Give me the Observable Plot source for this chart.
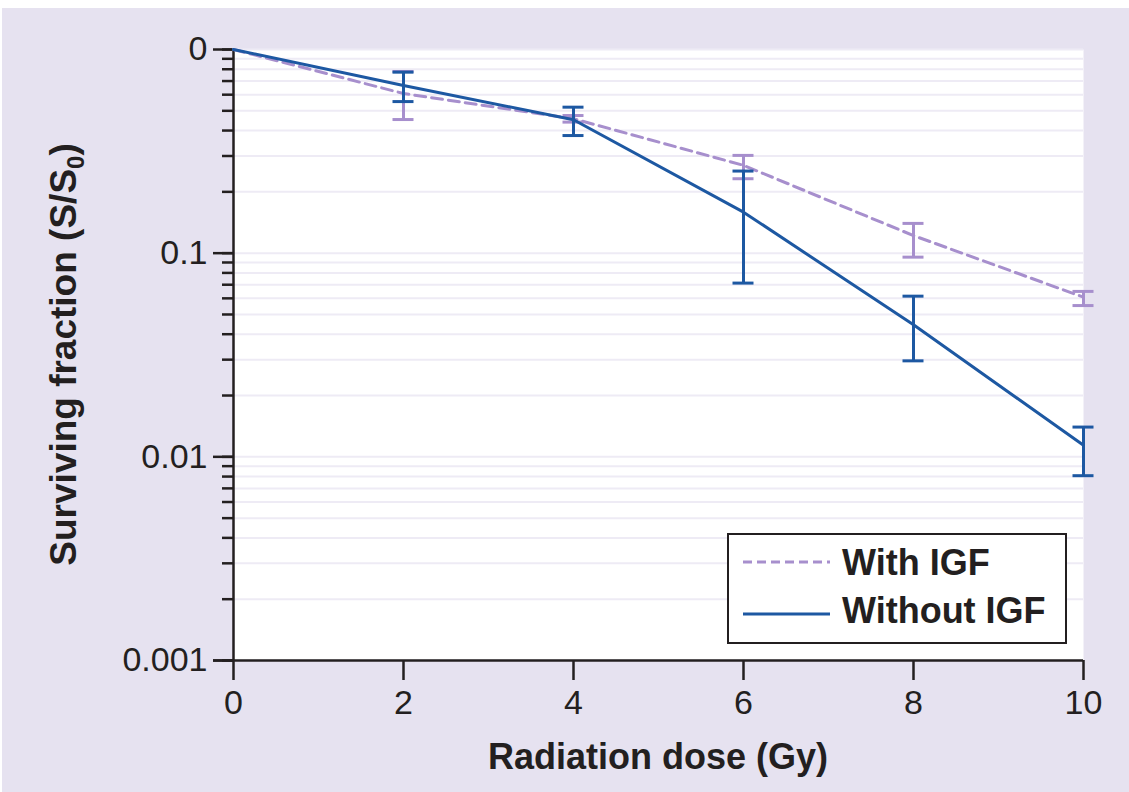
<!DOCTYPE html>
<html>
<head>
<meta charset="utf-8">
<script src="https://cdn.jsdelivr.net/npm/d3@7"></script>
<script src="https://cdn.jsdelivr.net/npm/@observablehq/plot@0.6"></script>
<style>
  html, body { margin: 0; padding: 0; background: #ffffff; }
  #chart { position: absolute; left: 2px; top: 8px; }
</style>
</head>
<body>
<div id="chart"></div>
<script>
// ---- data ----
const doses = [0, 2, 4, 6, 8, 10];
const withIGF = [1, 0.608, 0.457, 0.27, 0.122, 0.0608];
const withIGFLow = [null, 0.453, 0.44, 0.232, 0.0956, 0.0553];
const withIGFHigh = [null, 0.78, 0.474, 0.302, 0.140, 0.0649];
const withoutIGF = [1, 0.666, 0.452, 0.159, 0.0445, 0.0114];
const withoutIGFLow = [null, 0.555, 0.378, 0.0713, 0.0296, 0.00808];
const withoutIGFHigh = [null, 0.774, 0.521, 0.253, 0.0615, 0.014];
const seriesNames = ["With IGF", "Without IGF"];
const xTicks = [0, 2, 4, 6, 8, 10];
const yTickValues = [1, 0.1, 0.01, 0.001];
const yTickLabels = ["0", "0.1", "0.01", "0.001"];
const xTitle = "Radiation dose (Gy)";

// ---- styles ----
const lavender = "#e6e2f0";
const gridColor = "#eeebf5";
const ink = "#231f20";
const purple = "#a78fcd";
const blue = "#1d58a2";
const font = "'Liberation Sans', Arial, Helvetica, sans-serif";

function build(values, low, high) {
  return doses.map((d, i) => ({dose: d, sf: values[i], low: low[i], high: high[i]}));
}
const dataWith = build(withIGF, withIGFLow, withIGFHigh);
const dataWithout = build(withoutIGF, withoutIGFLow, withoutIGFHigh);
const errWith = dataWith.filter(d => d.low != null);
const errWithout = dataWithout.filter(d => d.low != null);

const yDomain = [0.001, 1];
const minorTicks = d3.scaleLog().domain(yDomain).ticks();
const labelOf = v => yTickLabels[yTickValues.indexOf(v)];

function errorMarks(err, color) {
  return [
    Plot.ruleX(err, {x: "dose", y1: "low", y2: "high", stroke: color, strokeWidth: 3}),
    Plot.ruleY(err, {y: "low", x1: "dose", x2: "dose", stroke: color, strokeWidth: 3, insetLeft: -10.5, insetRight: -10.5}),
    Plot.ruleY(err, {y: "high", x1: "dose", x2: "dose", stroke: color, strokeWidth: 3, insetLeft: -10.5, insetRight: -10.5})
  ];
}

const plot = Plot.plot({
  width: 1127,
  height: 784,
  marginLeft: 231,
  marginRight: 46,
  marginTop: 41,
  marginBottom: 132,
  style: {background: lavender, fontFamily: font, color: ink, overflow: "visible"},
  x: {domain: [0, 10]},
  y: {type: "log", domain: yDomain},
  marks: [
    Plot.frame({fill: "white", stroke: null}),
    Plot.gridY(minorTicks, {stroke: gridColor, strokeOpacity: 1, strokeWidth: 2}),
    Plot.axisY(minorTicks, {tickSize: 11, tickFormat: () => "", stroke: ink, strokeWidth: 2.5, label: null}),
    Plot.axisY(yTickValues, {tickSize: 20, tickPadding: 6, tickFormat: labelOf, stroke: ink, strokeWidth: 2.5, fontSize: 34, fill: ink, label: null}),
    Plot.axisX(xTicks, {tickSize: 20, tickPadding: 9, stroke: ink, strokeWidth: 2.5, fontSize: 34, fill: ink, label: null}),
    Plot.ruleX([0], {stroke: ink, strokeWidth: 2.5}),
    Plot.ruleY([0.001], {stroke: ink, strokeWidth: 2.5, insetLeft: -20}),
    Plot.line(dataWith, {x: "dose", y: "sf", stroke: purple, strokeWidth: 3, strokeDasharray: "11,6"}),
    ...errorMarks(errWith, purple),
    Plot.line(dataWithout, {x: "dose", y: "sf", stroke: blue, strokeWidth: 3}),
    ...errorMarks(errWithout, blue)
  ]
});

document.getElementById("chart").appendChild(plot);

// ---- titles and legend (added inside the same svg) ----
const svg = d3.select(plot);
const xs = plot.scale("x"), ys = plot.scale("y");
const fx0 = xs.apply(0), fx1 = xs.apply(10);
const fyTop = ys.apply(1), fyBot = ys.apply(0.001);

svg.append("text")
  .attr("x", (fx0 + fx1) / 2)
  .attr("y", fyBot + 109)
  .attr("text-anchor", "middle")
  .attr("font-family", font)
  .attr("font-weight", "bold")
  .attr("font-size", 36)
  .attr("fill", ink)
  .text(xTitle);

const yl = svg.append("text")
  .attr("transform", `translate(${74},${(fyTop + fyBot) / 2}) rotate(-90)`)
  .attr("text-anchor", "middle")
  .attr("font-family", font)
  .attr("font-weight", "bold")
  .attr("font-size", 37)
  .attr("fill", ink);
yl.append("tspan").text("Surviving fraction (S/S");
yl.append("tspan").attr("font-size", 24).attr("dy", 8).text("0");
yl.append("tspan").attr("dy", -8).text(")");

// legend
const lgW = 338, lgH = 109;
const lgX = fx1 - 17 - lgW, lgY = fyBot - 17 - lgH;
const lg = svg.append("g").attr("transform", `translate(${lgX},${lgY})`);
lg.append("rect").attr("width", lgW).attr("height", lgH)
  .attr("fill", "white").attr("stroke", ink).attr("stroke-width", 2);
const items = [
  {name: seriesNames[0], color: purple, dash: "9,5", ly: 28, ty: 41},
  {name: seriesNames[1], color: blue, dash: null, ly: 80, ty: 89}
];
items.forEach(it => {
  lg.append("line").attr("x1", 15).attr("x2", 102).attr("y1", it.ly).attr("y2", it.ly)
    .attr("stroke", it.color).attr("stroke-width", 3)
    .attr("stroke-dasharray", it.dash);
  lg.append("text").attr("x", 114).attr("y", it.ty)
    .attr("text-anchor", "start")
    .attr("font-family", font).attr("font-weight", "bold").attr("font-size", 36)
    .attr("fill", ink).text(it.name);
});
</script>
</body>
</html>
